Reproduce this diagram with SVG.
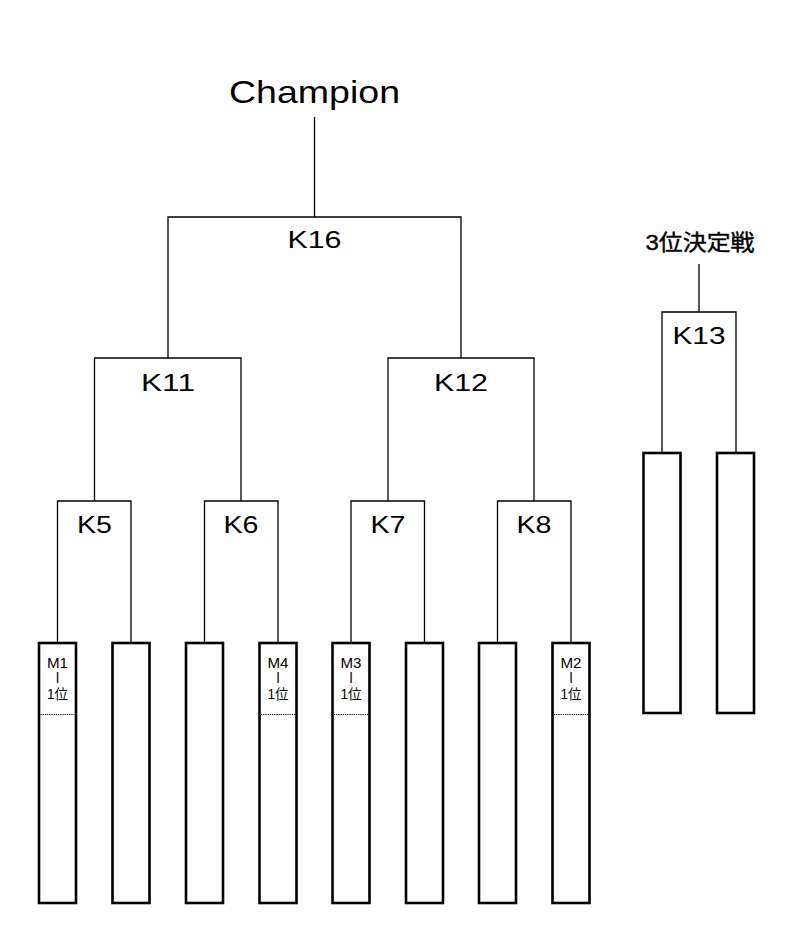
<svg xmlns="http://www.w3.org/2000/svg" width="800" height="943" viewBox="0 0 800 943">
<style>
.ln{fill:none;stroke:#000;stroke-width:1.3}
.bx{fill:#fff;stroke:#000;stroke-width:2.6}
.dot{stroke:#000;stroke-width:1;stroke-dasharray:1.2 1}
.lbl{font-family:"Liberation Sans","Noto Sans CJK JP",sans-serif;font-size:24px;text-anchor:middle;fill:#000}
.m{font-family:"Liberation Sans","Noto Sans CJK JP",sans-serif;font-size:14px;text-anchor:middle;fill:#000}
.t{font-family:"Liberation Sans","Noto Sans CJK JP",sans-serif;font-size:22px;font-weight:normal;text-anchor:middle;fill:#000;stroke:#000;stroke-width:0.4}
</style>
<rect width="800" height="943" fill="#fff"/>
<g id="connectors">
<path class="ln" d="M314.5,117V217M168,358V217H461V358"/>
<path class="ln" d="M168,358H94.5V501M168,358H241V501"/>
<path class="ln" d="M461,358H388V501M461,358H534V501"/>
<path class="ln" d="M94.5,501H57.5V643M94.5,501H131V643"/>
<path class="ln" d="M241,501H204.5V643M241,501H278V643"/>
<path class="ln" d="M388,501H351V643M388,501H424.5V643"/>
<path class="ln" d="M534,501H497.5V643M534,501H571V643"/>
<path class="ln" d="M699,264V312M662,453V312H736V453"/>
</g>
<g id="champion"><text class="lbl" x="314.5" y="103" style="font-size:32px" textLength="171" lengthAdjust="spacingAndGlyphs">Champion</text></g>
<g id="K16"><text class="lbl" x="314.5" y="248" textLength="54" lengthAdjust="spacingAndGlyphs">K16</text></g>
<g id="K11"><text class="lbl" x="168" y="391" textLength="54" lengthAdjust="spacingAndGlyphs">K11</text></g>
<g id="K12"><text class="lbl" x="461" y="391" textLength="54" lengthAdjust="spacingAndGlyphs">K12</text></g>
<g id="K5"><text class="lbl" x="94.5" y="533" textLength="35" lengthAdjust="spacingAndGlyphs">K5</text></g>
<g id="K6"><text class="lbl" x="241" y="533" textLength="35" lengthAdjust="spacingAndGlyphs">K6</text></g>
<g id="K7"><text class="lbl" x="388" y="533" textLength="35" lengthAdjust="spacingAndGlyphs">K7</text></g>
<g id="K8"><text class="lbl" x="534" y="533" textLength="35" lengthAdjust="spacingAndGlyphs">K8</text></g>
<g id="third"><text class="t" x="700" y="250" textLength="109" lengthAdjust="spacingAndGlyphs">3位決定戦</text></g>
<g id="K13"><text class="lbl" x="699" y="344" textLength="53" lengthAdjust="spacingAndGlyphs">K13</text></g>
<g id="slot1"><rect class="bx" x="39" y="643" width="37" height="260"/><line class="dot" x1="40.5" y1="714.5" x2="74.5" y2="714.5"/><text class="m" x="57.5" y="668" textLength="21" lengthAdjust="spacingAndGlyphs">M1</text><text class="m" x="57.5" y="683">l</text><text class="m" x="57.5" y="699" textLength="21" lengthAdjust="spacingAndGlyphs">1位</text></g>
<g id="slot2"><rect class="bx" x="112.5" y="643" width="37" height="260"/></g>
<g id="slot3"><rect class="bx" x="186" y="643" width="37" height="260"/></g>
<g id="slot4"><rect class="bx" x="259.5" y="643" width="37" height="260"/><line class="dot" x1="261" y1="714.5" x2="295" y2="714.5"/><text class="m" x="278" y="668" textLength="21" lengthAdjust="spacingAndGlyphs">M4</text><text class="m" x="278" y="683">l</text><text class="m" x="278" y="699" textLength="21" lengthAdjust="spacingAndGlyphs">1位</text></g>
<g id="slot5"><rect class="bx" x="332.5" y="643" width="37" height="260"/><line class="dot" x1="334" y1="714.5" x2="368" y2="714.5"/><text class="m" x="351" y="668" textLength="21" lengthAdjust="spacingAndGlyphs">M3</text><text class="m" x="351" y="683">l</text><text class="m" x="351" y="699" textLength="21" lengthAdjust="spacingAndGlyphs">1位</text></g>
<g id="slot6"><rect class="bx" x="406" y="643" width="37" height="260"/></g>
<g id="slot7"><rect class="bx" x="479" y="643" width="37" height="260"/></g>
<g id="slot8"><rect class="bx" x="552.5" y="643" width="37" height="260"/><line class="dot" x1="554" y1="714.5" x2="588" y2="714.5"/><text class="m" x="571" y="668" textLength="21" lengthAdjust="spacingAndGlyphs">M2</text><text class="m" x="571" y="683">l</text><text class="m" x="571" y="699" textLength="21" lengthAdjust="spacingAndGlyphs">1位</text></g>
<g id="slot9"><rect class="bx" x="643.5" y="453" width="37" height="260"/></g>
<g id="slot10"><rect class="bx" x="717" y="453" width="37" height="260"/></g>
</svg>
